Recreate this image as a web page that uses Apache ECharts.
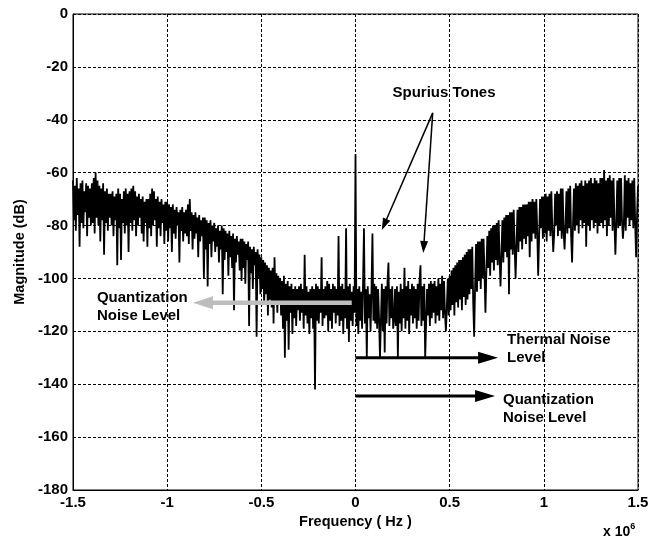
<!DOCTYPE html>
<html>
<head>
<meta charset="utf-8">
<script src="https://cdn.jsdelivr.net/npm/echarts@6/dist/echarts.min.js"></script>
<style>
  html, body { margin: 0; padding: 0; background: #fff; }
  #chart { width: 660px; height: 536px; }
</style>
</head>
<body>
<div id="chart"></div>
<script>
// spectrum bins: -1.5 MHz .. 1.5 MHz, 5 kHz apart
const FREQ_START = -1.5e6;
const FREQ_STEP = 5e3;

// magnitude (dB), one value per bin (20 bins per 0.1 MHz row)
const magnitudeNeg = [
  -63, -78, -65, -82, -62, -76, -66, -88, -64, -79, -63, -81, -67, -75, -64, -84, -65, -77, -66, -80,          // -1.50
  -64, -79, -62, -83, -60, -77, -63, -80, -65, -86, -66, -78, -64, -91, -67, -79, -66, -82, -68, -77,          // -1.40
  -68, -80, -67, -84, -69, -78, -68, -95, -66, -81, -68, -93, -70, -79, -67, -83, -66, -80, -68, -90,          // -1.30
  -67, -79, -66, -82, -65, -78, -67, -84, -69, -80, -68, -77, -70, -83, -69, -86, -71, -79, -70, -88,          // -1.20
  -70, -81, -68, -84, -66, -80, -67, -78, -70, -88, -69, -81, -71, -84, -70, -79, -72, -87, -71, -82,          // -1.10
  -71, -86, -72, -81, -73, -90, -72, -83, -74, -85, -73, -80, -75, -94, -74, -82, -73, -86, -75, -83,          // -1.00
  -74, -84, -72, -87, -70, -82, -75, -89, -76, -85, -75, -83, -77, -92, -76, -86, -78, -84, -77, -100,         // -0.90
  -77, -89, -78, -103, -79, -87, -78, -92, -80, -86, -79, -90, -81, -88, -80, -94, -82, -89, -80, -106,        // -0.80
  -81, -93, -82, -90, -83, -99, -82, -92, -84, -96, -83, -112, -85, -94, -84, -91, -86, -97, -85, -101,        // -0.70
  -85, -96, -86, -102, -87, -93, -86, -118, -88, -98, -89, -104, -88, -95, -90, -122, -89, -100, -91, -106,    // -0.60
  -92, -104, -93, -110, -94, -106, -95, -114, -96, -108, -97, -111, -96, -117, -92, -109, -98, -113, -99, -110, // -0.50
  -100, -114, -101, -119, -99, -130, -102, -116, -101, -127, -103, -113, -102, -121, -104, -115, -103, -118, -104, -112, // -0.40
  -103, -116, -102, -113, -104, -119, -91, -114, -103, -117, -105, -121, -104, -115, -103, -119, -104, -142, -102, -116,  // -0.30
  -103, -117, -104, -113, -92, -118, -104, -115, -103, -114, -101, -120, -102, -116, -104, -119, -102, -113, -103, -117,  // -0.20
  -104, -114, -84, -118, -103, -116, -102, -121, -104, -115, -81, -119, -103, -124, -102, -116, -105, -118, -103, -113    // -0.10
];

const magnitudeCarrier = -53;   // 0 Hz

const magnitudePos = [
  -118, -104, -121, -103, -116, -105, -119, -102, -81, -117, -104, -130, -103, -115, -106, -120, -104, -83, -116, -102,   // 0.005
  -117, -103, -119, -104, -115, -130, -116, -102, -120, -104, -128, -103, -117, -101, -94, -118, -104, -115, -103, -119,  // 0.105
  -116, -104, -118, -103, -130, -105, -117, -102, -120, -104, -115, -96, -119, -103, -116, -101, -121, -104, -114, -102,  // 0.205
  -117, -103, -115, -104, -119, -102, -116, -101, -95, -118, -103, -116, -102, -130, -117, -104, -114, -102, -118, -101,  // 0.305
  -115, -102, -113, -101, -117, -103, -114, -100, -116, -102, -112, -99, -115, -101, -113, -120, -111, -100, -114, -99,   // 0.405
  -112, -97, -110, -96, -114, -95, -109, -94, -111, -93, -108, -93, -112, -92, -107, -91, -110, -90, -108, -89,           // 0.505
  -106, -89, -104, -88, -109, -122, -103, -87, -105, -86, -101, -86, -104, -85, -100, -85, -98, -113, -97, -84,           // 0.605
  -96, -82, -99, -81, -94, -80, -97, -80, -93, -79, -95, -78, -92, -103, -91, -78, -94, -77, -90, -76,                    // 0.705
  -92, -76, -106, -75, -89, -75, -91, -74, -88, -100, -87, -74, -90, -73, -86, -73, -89, -72, -85, -72,                   // 0.805
  -87, -72, -84, -71, -92, -71, -86, -70, -83, -71, -85, -70, -82, -99, -84, -70, -81, -69, -85, -69,                     // 0.905
  -83, -68, -86, -69, -82, -68, -84, -67, -81, -90, -83, -68, -80, -67, -84, -68, -82, -66, -85, -66,                     // 1.005
  -82, -89, -80, -67, -83, -66, -81, -65, -84, -94, -79, -66, -82, -64, -80, -65, -83, -64, -78, -63,                     // 1.105
  -81, -65, -79, -63, -88, -64, -80, -63, -82, -62, -78, -64, -81, -62, -79, -63, -83, -64, -80, -62,                     // 1.205
  -79, -62, -81, -59, -78, -63, -84, -62, -80, -61, -77, -63, -82, -62, -79, -91, -78, -63, -81, -62,                     // 1.305
  -80, -62, -78, -85, -79, -61, -82, -63, -77, -62, -80, -64, -78, -63, -81, -62, -79, -92, -76, -65                      // 1.405
];

const magnitude = magnitudeNeg.concat([magnitudeCarrier], magnitudePos);

const xTicks = [-1.5e6, 1.5e6, 0.5e6];   // min, max, step
const yTicks = [-180, 0, 20];

const FONT = '"Liberation Sans", Arial, sans-serif';

const chartDom = document.getElementById('chart');
const myChart = echarts.init(chartDom, null, { renderer: 'canvas' });

const points = magnitude.map((v, i) => [FREQ_START + i * FREQ_STEP, v]);

const option = {
  animation: false,
  backgroundColor: '#fff',
  grid: {
    left: 73,
    top: 14,
    right: 22,
    bottom: 46,
    show: true,
    borderColor: '#000',
    borderWidth: 1,
    containLabel: false
  },
  xAxis: {
    type: 'value',
    min: xTicks[0],
    max: xTicks[1],
    interval: xTicks[2],
    name: 'Frequency ( Hz )',
    nameLocation: 'middle',
    nameGap: 24,
    nameTextStyle: { color: '#000', fontFamily: FONT, fontSize: 14.5, fontWeight: 'bold' },
    axisLine: { show: true, onZero: false, lineStyle: { color: '#000', width: 1 } },
    axisTick: { show: false },
    axisLabel: {
      color: '#000',
      fontFamily: FONT,
      fontSize: 15,
      fontWeight: 'bold',
      margin: 5,
      formatter: v => String(Math.round(v / 1e5) / 10)
    },
    splitLine: { show: true, lineStyle: { color: '#000', width: 1, type: [3, 2] } }
  },
  yAxis: {
    type: 'value',
    min: yTicks[0],
    max: yTicks[1],
    interval: yTicks[2],
    name: 'Magnitude (dB)',
    nameLocation: 'middle',
    nameGap: 44,
    nameTextStyle: { color: '#000', fontFamily: FONT, fontSize: 14.5, fontWeight: 'bold' },
    axisLine: { show: true, onZero: false, lineStyle: { color: '#000', width: 1 } },
    axisTick: { show: false },
    axisLabel: { color: '#000', fontFamily: FONT, fontSize: 15, fontWeight: 'bold', margin: 5 },
    splitLine: { show: true, lineStyle: { color: '#000', width: 1, type: [3, 2] } }
  },
  series: [
    {
      name: 'spectrum',
      type: 'line',
      data: points,
      symbol: 'none',
      sampling: null,
      lineStyle: { color: '#000', width: 1.8 },
      z: 2
    }
  ]
};

myChart.setOption(option);

// annotations, placed in data coordinates
function px(pt) {
  return myChart.convertToPixel({ gridIndex: 0 }, pt);
}

function arrow(from, to, color, width, headLen, headW) {
  const a = px(from);
  const b = px(to);
  const dx = b[0] - a[0];
  const dy = b[1] - a[1];
  const len = Math.sqrt(dx * dx + dy * dy);
  const ux = dx / len;
  const uy = dy / len;
  const bx = b[0] - ux * headLen;
  const by = b[1] - uy * headLen;
  return [
    {
      type: 'line',
      z: 10,
      shape: { x1: a[0], y1: a[1], x2: bx + ux, y2: by + uy },
      style: { stroke: color, lineWidth: width }
    },
    {
      type: 'polygon',
      z: 10,
      shape: {
        points: [
          [b[0], b[1]],
          [bx - uy * headW / 2, by + ux * headW / 2],
          [bx + uy * headW / 2, by - ux * headW / 2]
        ]
      },
      style: { fill: color }
    }
  ];
}

function label(anchor, text, align) {
  const p = px(anchor);
  return {
    type: 'text',
    z: 11,
    x: p[0],
    y: p[1],
    style: {
      text: text,
      fill: '#000',
      font: 'bold 15px ' + FONT,
      align: align || 'left',
      verticalAlign: 'middle',
      lineHeight: 18
    }
  };
}

const tr = px([xTicks[1], yTicks[0]]);

const graphic = [].concat(
  arrow([-0.02e6, -109.2], [-0.863e6, -109.2], '#bdbdbd', 4.5, 20, 13),
  arrow([0, -130], [0.757e6, -130], '#000', 3, 20, 12),
  arrow([0, -144.5], [0.741e6, -144.5], '#000', 3, 20, 12),
  arrow([0.41e6, -37.4], [0.14e6, -81.7], '#000', 1.5, 12, 8),
  arrow([0.41e6, -37.4], [0.36e6, -90.4], '#000', 1.5, 12, 8),
  [
    label([0.47e6, -30], 'Spurius Tones', 'center'),
    label([-1.373e6, -110.8], 'Quantization\nNoise Level'),
    label([0.805e6, -126.7], 'Thermal Noise\nLevel'),
    label([0.783e6, -149.2], 'Quantization\nNoise Level'),
    {
      type: 'text',
      z: 11,
      x: tr[0] - 35,
      y: tr[1] + 42,
      style: {
        text: 'x 10{sup|6}',
        fill: '#000',
        font: 'bold 14px ' + FONT,
        verticalAlign: 'middle',
        rich: {
          sup: { fontSize: 9, fontWeight: 'bold', fontFamily: FONT, verticalAlign: 'top', padding: [0, 0, 10, 0] }
        }
      }
    }
  ]
);

myChart.setOption({ graphic: graphic });
</script>
</body>
</html>
